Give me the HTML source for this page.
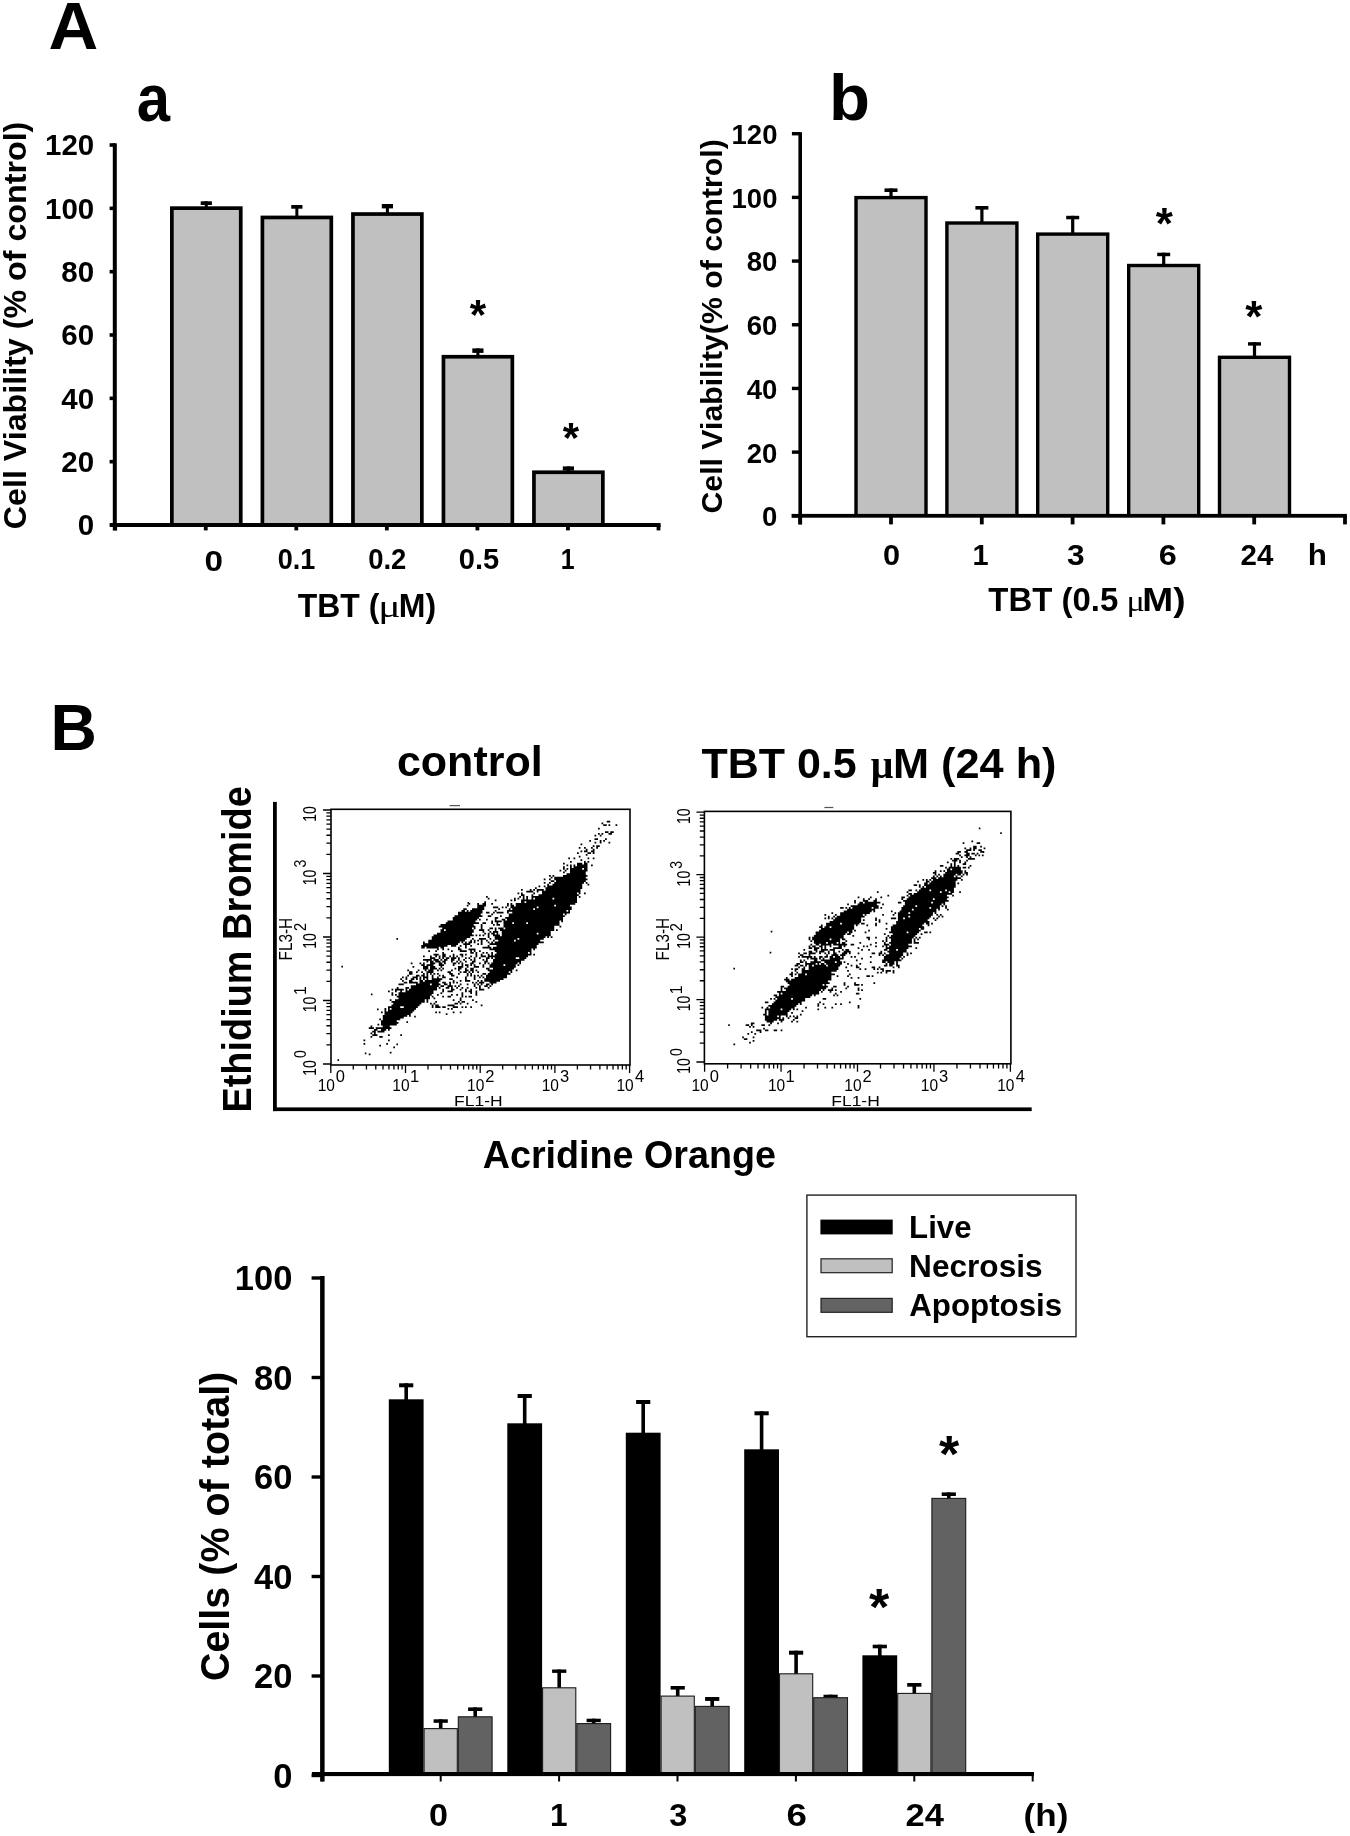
<!DOCTYPE html>
<html><head><meta charset="utf-8"><title>Figure</title>
<style>html,body{margin:0;padding:0;background:#fff;}svg{display:block;filter:grayscale(1) blur(0.35px);}</style></head>
<body><svg width="1350" height="1836" viewBox="0 0 1350 1836">
<rect width="1350" height="1836" fill="#fff"/>
<text x="48.57" y="49.2" font-family='"Liberation Sans", sans-serif' font-weight="bold" font-size="66" textLength="49.76" lengthAdjust="spacingAndGlyphs" fill="#000">A</text>
<text x="136.72" y="121.3" font-family='"Liberation Sans", sans-serif' font-weight="bold" font-size="67" textLength="33.25" lengthAdjust="spacingAndGlyphs" fill="#000">a</text>
<text x="829.11" y="119.7" font-family='"Liberation Sans", sans-serif' font-weight="bold" font-size="65" textLength="40.98" lengthAdjust="spacingAndGlyphs" fill="#000">b</text>
<text x="50.6" y="750.4" font-family='"Liberation Sans", sans-serif' font-weight="bold" font-size="65" textLength="46.41" lengthAdjust="spacingAndGlyphs" fill="#000">B</text>
<rect x="109.6" y="523.2" width="5.4" height="3.6" fill="#000"/>
<rect x="109.6" y="459.87" width="5.4" height="3.6" fill="#000"/>
<rect x="109.6" y="396.54" width="5.4" height="3.6" fill="#000"/>
<rect x="109.6" y="333.21" width="5.4" height="3.6" fill="#000"/>
<rect x="109.6" y="269.88" width="5.4" height="3.6" fill="#000"/>
<rect x="109.6" y="206.55" width="5.4" height="3.6" fill="#000"/>
<rect x="109.6" y="143.22" width="5.4" height="3.6" fill="#000"/>
<rect x="113.3" y="525" width="3.8" height="5.4" fill="#000"/>
<rect x="203.85" y="525" width="3.8" height="5.4" fill="#000"/>
<rect x="294.4" y="525" width="3.8" height="5.4" fill="#000"/>
<rect x="384.95" y="525" width="3.8" height="5.4" fill="#000"/>
<rect x="475.5" y="525" width="3.8" height="5.4" fill="#000"/>
<rect x="566.05" y="525" width="3.8" height="5.4" fill="#000"/>
<rect x="656.6" y="525" width="3.8" height="5.4" fill="#000"/>
<rect x="200.7" y="201.3" width="11.2" height="3.7" fill="#000"/><rect x="204.8" y="201.3" width="3" height="6" fill="#000"/>
<rect x="170" y="206.3" width="72.6" height="318.7" fill="#000"/><rect x="173.7" y="210" width="65.2" height="315" fill="#c0c0c0"/>
<rect x="291.25" y="205" width="11.2" height="3.7" fill="#000"/><rect x="295.35" y="205" width="3" height="11.6" fill="#000"/>
<rect x="260.55" y="215.6" width="72.6" height="309.4" fill="#000"/><rect x="264.25" y="219.3" width="65.2" height="305.7" fill="#c0c0c0"/>
<rect x="381.8" y="204" width="11.2" height="4.4" fill="#000"/><rect x="385.9" y="204" width="3" height="9.2" fill="#000"/>
<rect x="351.1" y="212.2" width="72.6" height="312.8" fill="#000"/><rect x="354.8" y="215.9" width="65.2" height="309.1" fill="#c0c0c0"/>
<rect x="472.3" y="348.4" width="11.2" height="4.5" fill="#000"/><rect x="476.4" y="348.4" width="3" height="7.5" fill="#000"/>
<rect x="441.6" y="354.9" width="72.6" height="170.1" fill="#000"/><rect x="445.3" y="358.6" width="65.2" height="166.4" fill="#c0c0c0"/>
<rect x="562.8" y="466.4" width="11.2" height="4.2" fill="#000"/><rect x="566.9" y="466.4" width="3" height="5" fill="#000"/>
<rect x="532.1" y="470.4" width="72.6" height="54.6" fill="#000"/><rect x="535.8" y="474.1" width="65.2" height="50.9" fill="#c0c0c0"/>
<rect x="112.8" y="143.3" width="4" height="387.1" fill="#000"/>
<rect x="110" y="523" width="550.6" height="4" fill="#000"/>
<text x="469.75" y="328.8" font-family='"Liberation Sans", sans-serif' font-weight="bold" font-size="42">*</text>
<text x="562.65" y="452.3" font-family='"Liberation Sans", sans-serif' font-weight="bold" font-size="42">*</text>
<text x="77.75" y="535.4" font-family='"Liberation Sans", sans-serif' font-weight="bold" font-size="29.5" fill="#000">0</text>
<text x="61.25" y="472.07" font-family='"Liberation Sans", sans-serif' font-weight="bold" font-size="29.5" fill="#000">20</text>
<text x="61.25" y="408.74" font-family='"Liberation Sans", sans-serif' font-weight="bold" font-size="29.5" fill="#000">40</text>
<text x="61.25" y="345.41" font-family='"Liberation Sans", sans-serif' font-weight="bold" font-size="29.5" fill="#000">60</text>
<text x="61.25" y="282.08" font-family='"Liberation Sans", sans-serif' font-weight="bold" font-size="29.5" fill="#000">80</text>
<text x="45" y="218.75" font-family='"Liberation Sans", sans-serif' font-weight="bold" font-size="29.5" fill="#000">100</text>
<text x="45" y="155.42" font-family='"Liberation Sans", sans-serif' font-weight="bold" font-size="29.5" fill="#000">120</text>
<text x="204.59" y="570.6" font-family='"Liberation Sans", sans-serif' font-weight="bold" font-size="29.5" textLength="18.52" lengthAdjust="spacingAndGlyphs" fill="#000">0</text>
<text x="277.75" y="568.9" font-family='"Liberation Sans", sans-serif' font-weight="bold" font-size="29.5" textLength="37.57" lengthAdjust="spacingAndGlyphs" fill="#000">0.1</text>
<text x="368.24" y="568.9" font-family='"Liberation Sans", sans-serif' font-weight="bold" font-size="29.5" textLength="38.13" lengthAdjust="spacingAndGlyphs" fill="#000">0.2</text>
<text x="458.77" y="568.9" font-family='"Liberation Sans", sans-serif' font-weight="bold" font-size="29.5" textLength="40.43" lengthAdjust="spacingAndGlyphs" fill="#000">0.5</text>
<text x="560.72" y="568.9" font-family='"Liberation Sans", sans-serif' font-weight="bold" font-size="29.5" textLength="13.84" lengthAdjust="spacingAndGlyphs" fill="#000">1</text>
<text x="297.76" y="617" font-family='"Liberation Sans", sans-serif' font-weight="bold" font-size="33" textLength="81.53" lengthAdjust="spacingAndGlyphs" fill="#000">TBT (</text>
<text x="378.23" y="617" font-family='"Liberation Serif", serif' font-weight="normal" font-size="31" textLength="22.42" lengthAdjust="spacingAndGlyphs" fill="#000">μ</text>
<text x="398.72" y="617" font-family='"Liberation Sans", sans-serif' font-weight="bold" font-size="33" textLength="37.36" lengthAdjust="spacingAndGlyphs" fill="#000">M)</text>
<g transform="translate(26.3,528) rotate(-90)"><text x="-1.26" y="0" font-family='"Liberation Sans", sans-serif' font-weight="bold" font-size="32" textLength="407.6" lengthAdjust="spacingAndGlyphs" fill="#000">Cell Viability (% of control)</text></g>
<rect x="791.9" y="514.1" width="8.1" height="3.4" fill="#000"/>
<rect x="791.9" y="450.42" width="8.1" height="3.4" fill="#000"/>
<rect x="791.9" y="386.74" width="8.1" height="3.4" fill="#000"/>
<rect x="791.9" y="323.06" width="8.1" height="3.4" fill="#000"/>
<rect x="791.9" y="259.38" width="8.1" height="3.4" fill="#000"/>
<rect x="791.9" y="195.7" width="8.1" height="3.4" fill="#000"/>
<rect x="791.9" y="132.02" width="8.1" height="3.4" fill="#000"/>
<rect x="798.3" y="515.8" width="3.8" height="8.6" fill="#000"/>
<rect x="889.1" y="515.8" width="3.8" height="8.6" fill="#000"/>
<rect x="979.9" y="515.8" width="3.8" height="8.6" fill="#000"/>
<rect x="1070.7" y="515.8" width="3.8" height="8.6" fill="#000"/>
<rect x="1161.5" y="515.8" width="3.8" height="8.6" fill="#000"/>
<rect x="1252.3" y="515.8" width="3.8" height="8.6" fill="#000"/>
<rect x="1343.1" y="515.8" width="3.8" height="8.6" fill="#000"/>
<rect x="884.5" y="188.4" width="13" height="3.6" fill="#000"/><rect x="889.4" y="188.4" width="3.2" height="8.5" fill="#000"/>
<rect x="854.3" y="195.9" width="73.4" height="319.9" fill="#000"/><rect x="857.7" y="199.3" width="66.6" height="316.5" fill="#c0c0c0"/>
<rect x="975.4" y="206" width="13" height="3.6" fill="#000"/><rect x="980.3" y="206" width="3.2" height="16.3" fill="#000"/>
<rect x="945.2" y="221.3" width="73.4" height="294.5" fill="#000"/><rect x="948.6" y="224.7" width="66.6" height="291.1" fill="#c0c0c0"/>
<rect x="1066.2" y="215.8" width="13" height="3.5" fill="#000"/><rect x="1071.1" y="215.8" width="3.2" height="17.6" fill="#000"/>
<rect x="1036" y="232.4" width="73.4" height="283.4" fill="#000"/><rect x="1039.4" y="235.8" width="66.6" height="280" fill="#c0c0c0"/>
<rect x="1157.2" y="252.7" width="13" height="3.5" fill="#000"/><rect x="1162.1" y="252.7" width="3.2" height="12.1" fill="#000"/>
<rect x="1127" y="263.8" width="73.4" height="252" fill="#000"/><rect x="1130.4" y="267.2" width="66.6" height="248.6" fill="#c0c0c0"/>
<rect x="1248" y="342.2" width="13" height="3.4" fill="#000"/><rect x="1252.9" y="342.2" width="3.2" height="14.4" fill="#000"/>
<rect x="1217.8" y="355.6" width="73.4" height="160.2" fill="#000"/><rect x="1221.2" y="359" width="66.6" height="156.8" fill="#c0c0c0"/>
<rect x="798.4" y="132.2" width="3.6" height="392.2" fill="#000"/>
<rect x="791.6" y="513.9" width="555.3" height="3.8" fill="#000"/>
<text x="1155.78" y="239.15" font-family='"Liberation Sans", sans-serif' font-weight="bold" font-size="44">*</text>
<text x="1245.28" y="332.45" font-family='"Liberation Sans", sans-serif' font-weight="bold" font-size="44">*</text>
<text x="762.05" y="526.2" font-family='"Liberation Sans", sans-serif' font-weight="bold" font-size="27.5" fill="#000">0</text>
<text x="746.8" y="462.52" font-family='"Liberation Sans", sans-serif' font-weight="bold" font-size="27.5" fill="#000">20</text>
<text x="746.8" y="398.84" font-family='"Liberation Sans", sans-serif' font-weight="bold" font-size="27.5" fill="#000">40</text>
<text x="746.8" y="335.16" font-family='"Liberation Sans", sans-serif' font-weight="bold" font-size="27.5" fill="#000">60</text>
<text x="746.8" y="271.48" font-family='"Liberation Sans", sans-serif' font-weight="bold" font-size="27.5" fill="#000">80</text>
<text x="731.55" y="207.8" font-family='"Liberation Sans", sans-serif' font-weight="bold" font-size="27.5" fill="#000">100</text>
<text x="731.55" y="144.12" font-family='"Liberation Sans", sans-serif' font-weight="bold" font-size="27.5" fill="#000">120</text>
<text x="883.06" y="565" font-family='"Liberation Sans", sans-serif' font-weight="bold" font-size="28.6" textLength="17.08" lengthAdjust="spacingAndGlyphs" fill="#000">0</text>
<text x="972.63" y="565" font-family='"Liberation Sans", sans-serif' font-weight="bold" font-size="28.6" textLength="16.09" lengthAdjust="spacingAndGlyphs" fill="#000">1</text>
<text x="1066.97" y="565" font-family='"Liberation Sans", sans-serif' font-weight="bold" font-size="28.6" textLength="17.61" lengthAdjust="spacingAndGlyphs" fill="#000">3</text>
<text x="1158.87" y="565" font-family='"Liberation Sans", sans-serif' font-weight="bold" font-size="28.6" textLength="18.05" lengthAdjust="spacingAndGlyphs" fill="#000">6</text>
<text x="1240.57" y="565" font-family='"Liberation Sans", sans-serif' font-weight="bold" font-size="28.6" textLength="32.8" lengthAdjust="spacingAndGlyphs" fill="#000">24</text>
<text x="1307.8" y="565" font-family='"Liberation Sans", sans-serif' font-weight="bold" font-size="28.6" textLength="19.18" lengthAdjust="spacingAndGlyphs" fill="#000">h</text>
<text x="988.35" y="610.5" font-family='"Liberation Sans", sans-serif' font-weight="bold" font-size="32.5" textLength="129.97" lengthAdjust="spacingAndGlyphs" fill="#000">TBT (0.5</text>
<text x="1126.44" y="610.5" font-family='"Liberation Serif", serif' font-weight="normal" font-size="30" textLength="18.38" lengthAdjust="spacingAndGlyphs" fill="#000">μ</text>
<text x="1142.33" y="610.5" font-family='"Liberation Sans", sans-serif' font-weight="bold" font-size="32.5" textLength="43.25" lengthAdjust="spacingAndGlyphs" fill="#000">M)</text>
<g transform="translate(721.8,512.3) rotate(-90)"><text x="-1.26" y="0" font-family='"Liberation Sans", sans-serif' font-weight="bold" font-size="30" textLength="374.38" lengthAdjust="spacingAndGlyphs" fill="#000">Cell Viability(% of control)</text></g>
<text x="396.95" y="775.6" font-family='"Liberation Sans", sans-serif' font-weight="bold" font-size="43" textLength="145.71" lengthAdjust="spacingAndGlyphs" fill="#000">control</text>
<text x="701.49" y="777.9" font-family='"Liberation Sans", sans-serif' font-weight="bold" font-size="42" textLength="155.14" lengthAdjust="spacingAndGlyphs" fill="#000">TBT 0.5</text>
<text x="870.63" y="777.9" font-family='"Liberation Serif", serif' font-weight="bold" font-size="42" textLength="22.5" lengthAdjust="spacingAndGlyphs" fill="#000">μ</text>
<text x="893.07" y="777.9" font-family='"Liberation Sans", sans-serif' font-weight="bold" font-size="42" textLength="163.42" lengthAdjust="spacingAndGlyphs" fill="#000">M (24 h)</text>
<g transform="translate(251,1110) rotate(-90)"><text x="-2.61" y="0" font-family='"Liberation Sans", sans-serif' font-weight="bold" font-size="40" textLength="326.38" lengthAdjust="spacingAndGlyphs" fill="#000">Ethidium Bromide</text></g>
<text x="482.71" y="1167.7" font-family='"Liberation Sans", sans-serif' font-weight="bold" font-size="38" textLength="293.26" lengthAdjust="spacingAndGlyphs" fill="#000">Acridine Orange</text>
<rect x="273" y="801.9" width="3.8" height="309.2" fill="#000"/>
<rect x="273" y="1107.4" width="758.7" height="3.7" fill="#000"/>
<rect x="331" y="809.3" width="299" height="255.7" fill="none" stroke="#000" stroke-width="1.6"/>
<path d="M353.29 1065v4.6M326.4 1044.88h4.6M366.44 1065v4.6M326.4 1033.7h4.6M375.77 1065v4.6M326.4 1025.77h4.6M383.01 1065v4.6M326.4 1019.62h4.6M388.93 1065v4.6M326.4 1014.59h4.6M393.93 1065v4.6M326.4 1010.34h4.6M398.26 1065v4.6M326.4 1006.65h4.6M402.08 1065v4.6M326.4 1003.41h4.6M405.5 1065v8M323 1000.5h8M427.99 1065v4.6M326.4 981.38h4.6M441.14 1065v4.6M326.4 970.2h4.6M450.47 1065v4.6M326.4 962.27h4.6M457.71 1065v4.6M326.4 956.12h4.6M463.63 1065v4.6M326.4 951.09h4.6M468.63 1065v4.6M326.4 946.84h4.6M472.96 1065v4.6M326.4 943.15h4.6M476.78 1065v4.6M326.4 939.91h4.6M480.2 1065v8M323 937h8M502.69 1065v4.6M326.4 917.88h4.6M515.84 1065v4.6M326.4 906.7h4.6M525.17 1065v4.6M326.4 898.77h4.6M532.41 1065v4.6M326.4 892.62h4.6M538.33 1065v4.6M326.4 887.59h4.6M543.33 1065v4.6M326.4 883.34h4.6M547.66 1065v4.6M326.4 879.65h4.6M551.48 1065v4.6M326.4 876.41h4.6M554.9 1065v8M323 873.5h8M577.39 1065v4.6M326.4 854.38h4.6M590.54 1065v4.6M326.4 843.2h4.6M599.87 1065v4.6M326.4 835.27h4.6M607.11 1065v4.6M326.4 829.12h4.6M613.03 1065v4.6M326.4 824.09h4.6M618.03 1065v4.6M326.4 819.84h4.6M622.36 1065v4.6M326.4 816.15h4.6M626.18 1065v4.6M326.4 812.91h4.6M330.8 1065v8M323 1064h8M629.6 1065v8M323 810h8" stroke="#000" stroke-width="1.3" fill="none"/>
<text x="317.63" y="1090.5" font-family='"Liberation Sans", sans-serif' font-weight="normal" font-size="16.5" textLength="17.24" lengthAdjust="spacingAndGlyphs" fill="#000">10</text>
<text x="335.85" y="1082.1" font-family='"Liberation Sans", sans-serif' font-weight="normal" font-size="16.5" fill="#000">0</text>
<text x="392.33" y="1090.5" font-family='"Liberation Sans", sans-serif' font-weight="normal" font-size="16.5" textLength="17.24" lengthAdjust="spacingAndGlyphs" fill="#000">10</text>
<text x="410.05" y="1082.1" font-family='"Liberation Sans", sans-serif' font-weight="normal" font-size="16.5" fill="#000">1</text>
<text x="467.03" y="1090.5" font-family='"Liberation Sans", sans-serif' font-weight="normal" font-size="16.5" textLength="17.24" lengthAdjust="spacingAndGlyphs" fill="#000">10</text>
<text x="485.25" y="1082.1" font-family='"Liberation Sans", sans-serif' font-weight="normal" font-size="16.5" fill="#000">2</text>
<text x="541.73" y="1090.5" font-family='"Liberation Sans", sans-serif' font-weight="normal" font-size="16.5" textLength="17.24" lengthAdjust="spacingAndGlyphs" fill="#000">10</text>
<text x="559.95" y="1082.1" font-family='"Liberation Sans", sans-serif' font-weight="normal" font-size="16.5" fill="#000">3</text>
<text x="616.43" y="1090.5" font-family='"Liberation Sans", sans-serif' font-weight="normal" font-size="16.5" textLength="17.24" lengthAdjust="spacingAndGlyphs" fill="#000">10</text>
<text x="634.9" y="1082.1" font-family='"Liberation Sans", sans-serif' font-weight="normal" font-size="16.5" fill="#000">4</text>
<g transform="translate(315.7,1074.6) rotate(-90)"><text x="-1.13" y="0" font-family='"Liberation Sans", sans-serif' font-weight="normal" font-size="18.5" textLength="15.56" lengthAdjust="spacingAndGlyphs" fill="#000">10</text></g>
<g transform="translate(305.8,1057.4) rotate(-90)"><text x="-0.66" y="0" font-family='"Liberation Sans", sans-serif' font-weight="normal" font-size="16" textLength="7.83" lengthAdjust="spacingAndGlyphs" fill="#000">0</text></g>
<g transform="translate(315.7,1011.1) rotate(-90)"><text x="-1.13" y="0" font-family='"Liberation Sans", sans-serif' font-weight="normal" font-size="18.5" textLength="15.56" lengthAdjust="spacingAndGlyphs" fill="#000">10</text></g>
<g transform="translate(305.8,993.9) rotate(-90)"><text x="-1.22" y="0" font-family='"Liberation Sans", sans-serif' font-weight="normal" font-size="16" textLength="8.7" lengthAdjust="spacingAndGlyphs" fill="#000">1</text></g>
<g transform="translate(315.7,947.6) rotate(-90)"><text x="-1.13" y="0" font-family='"Liberation Sans", sans-serif' font-weight="normal" font-size="18.5" textLength="15.56" lengthAdjust="spacingAndGlyphs" fill="#000">10</text></g>
<g transform="translate(305.8,930.4) rotate(-90)"><text x="-0.68" y="0" font-family='"Liberation Sans", sans-serif' font-weight="normal" font-size="16" textLength="8.1" lengthAdjust="spacingAndGlyphs" fill="#000">2</text></g>
<g transform="translate(315.7,884.1) rotate(-90)"><text x="-1.13" y="0" font-family='"Liberation Sans", sans-serif' font-weight="normal" font-size="18.5" textLength="15.56" lengthAdjust="spacingAndGlyphs" fill="#000">10</text></g>
<g transform="translate(305.8,866.9) rotate(-90)"><text x="-0.66" y="0" font-family='"Liberation Sans", sans-serif' font-weight="normal" font-size="16" textLength="7.83" lengthAdjust="spacingAndGlyphs" fill="#000">3</text></g>
<g transform="translate(315.7,820.6) rotate(-90)"><text x="-1.13" y="0" font-family='"Liberation Sans", sans-serif' font-weight="normal" font-size="18.5" textLength="15.56" lengthAdjust="spacingAndGlyphs" fill="#000">10</text></g>
<text x="454.14" y="1105.6" font-family='"Liberation Sans", sans-serif' font-weight="normal" font-size="15" textLength="48.52" lengthAdjust="spacingAndGlyphs" fill="#000">FL1-H</text>
<g transform="translate(292,959.2) rotate(-90)"><text x="-1.21" y="0" font-family='"Liberation Sans", sans-serif' font-weight="normal" font-size="19" textLength="42.55" lengthAdjust="spacingAndGlyphs" fill="#000">FL3-H</text></g>
<rect x="449.6" y="805" width="10.4" height="1.2" fill="#555"/>
<path d="M606.75 821.67h3.5M601.5 823.42h1.75M603.25 825.17h3.5M608.5 825.17h1.75M615.5 825.17h1.75M598 828.67h1.75M605 832.17h3.5M610.25 832.17h3.5M598 833.92h1.75M601.5 833.92h1.75M608.5 833.92h3.5M594.5 835.67h1.75M599.75 835.67h1.75M594.5 839.17h3.5M605 839.17h1.75M589.25 840.92h1.75M599.75 840.92h1.75M603.25 840.92h1.75M594.5 842.67h1.75M599.75 842.67h1.75M608.5 842.67h1.75M580.5 844.42h1.75M592.75 846.17h1.75M596.25 846.17h3.5M578.75 847.92h1.75M584 847.92h1.75M591 847.92h1.75M596.25 847.92h1.75M585.75 849.67h1.75M592.75 849.67h1.75M580.5 851.42h1.75M584 851.42h3.5M591 851.42h3.5M577 853.17h1.75M587.5 853.17h3.5M592.75 853.17h1.75M585.75 854.92h1.75M578.75 856.67h1.75M568.25 858.42h1.75M573.5 858.42h1.75M587.5 858.42h1.75M592.75 858.42h1.75M580.5 860.17h1.75M570 861.92h1.75M584 861.92h1.75M587.5 861.92h1.75M563 863.67h1.75M577 863.67h5.25M584 863.67h3.5M566.5 865.42h1.75M570 865.42h1.75M573.5 865.42h1.75M577 865.42h10.5M591 865.42h1.75M563 867.17h1.75M570 867.17h1.75M573.5 867.17h14M563 868.92h1.75M566.5 868.92h1.75M570 868.92h12.25M584 868.92h3.5M559.5 870.67h1.75M564.75 870.67h1.75M570 870.67h17.5M563 872.42h1.75M570 872.42h15.75M566.5 874.17h19.25M549 875.92h1.75M552.5 875.92h1.75M563 875.92h24.5M550.75 877.67h1.75M554.25 877.67h31.5M543.75 879.42h1.75M549 879.42h1.75M554.25 879.42h33.25M550.75 881.17h3.5M556 881.17h29.75M543.75 882.92h1.75M549 882.92h1.75M554.25 882.92h29.75M585.75 882.92h1.75M547.25 884.67h1.75M552.5 884.67h29.75M587.5 884.67h1.75M538.5 886.42h1.75M543.75 886.42h1.75M547.25 886.42h35M535 888.17h1.75M545.5 888.17h36.75M521 889.92h1.75M529.75 889.92h1.75M533.25 889.92h1.75M536.75 889.92h7M545.5 889.92h35M526.25 891.67h7M536.75 891.67h1.75M542 891.67h38.5M517.5 893.42h1.75M521 893.42h1.75M533.25 893.42h1.75M542 893.42h35M578.75 893.42h1.75M584 893.42h1.75M521 895.17h3.5M531.5 895.17h1.75M538.5 895.17h40.25M486 896.92h1.75M519.25 896.92h1.75M522.75 896.92h1.75M526.25 896.92h1.75M531.5 896.92h45.5M578.75 896.92h1.75M487.75 898.67h1.75M514 898.67h1.75M517.5 898.67h1.75M522.75 898.67h1.75M526.25 898.67h1.75M531.5 898.67h1.75M535 898.67h17.5M554.25 898.67h22.75M494.75 900.42h1.75M510.5 900.42h1.75M514 900.42h1.75M521 900.42h56M484.25 902.17h1.75M521 902.17h3.5M526.25 902.17h50.75M468.5 903.92h1.75M477.25 903.92h1.75M482.5 903.92h3.5M491.25 903.92h1.75M507 903.92h1.75M510.5 903.92h1.75M515.75 903.92h59.5M466.75 905.67h1.75M477.25 905.67h8.75M507 905.67h1.75M510.5 905.67h3.5M515.75 905.67h38.5M556 905.67h14M477.25 907.42h7M493 907.42h5.25M501.75 907.42h1.75M505.25 907.42h1.75M510.5 907.42h26.25M538.5 907.42h33.25M463.25 909.17h3.5M472 909.17h12.25M498.25 909.17h1.75M508.75 909.17h1.75M512.25 909.17h21M535 909.17h36.75M461.5 910.92h3.5M466.75 910.92h1.75M470.25 910.92h12.25M494.75 910.92h1.75M507 910.92h59.5M568.25 910.92h1.75M458 912.67h24.5M486 912.67h3.5M493 912.67h1.75M496.5 912.67h7M507 912.67h1.75M512.25 912.67h57.75M458 914.42h22.75M491.25 914.42h1.75M508.75 914.42h54.25M564.75 914.42h1.75M454.5 916.17h28M487.75 916.17h3.5M500 916.17h1.75M508.75 916.17h56M452.75 917.92h26.25M494.75 917.92h3.5M505.25 917.92h57.75M452.75 919.67h24.5M479 919.67h1.75M486 919.67h1.75M494.75 919.67h1.75M501.75 919.67h3.5M507 919.67h56M447.5 921.42h28M491.25 921.42h1.75M494.75 921.42h7M503.5 921.42h56M561.25 921.42h1.75M445.75 923.17h33.25M482.5 923.17h3.5M491.25 923.17h1.75M496.5 923.17h1.75M503.5 923.17h8.75M514 923.17h12.25M528 923.17h31.5M440.5 924.92h33.25M480.75 924.92h1.75M493 924.92h1.75M496.5 924.92h3.5M503.5 924.92h56M438.75 926.67h36.75M480.75 926.67h1.75M503.5 926.67h50.75M559.5 926.67h1.75M442.25 928.42h29.75M473.75 928.42h1.75M480.75 928.42h1.75M489.5 928.42h3.5M494.75 928.42h1.75M498.25 928.42h5.25M505.25 928.42h49M440.5 930.17h3.5M445.75 930.17h28M479 930.17h5.25M487.75 930.17h1.75M494.75 930.17h1.75M500 930.17h54.25M556 930.17h1.75M440.5 931.92h33.25M482.5 931.92h1.75M489.5 931.92h1.75M493 931.92h5.25M501.75 931.92h49M437 933.67h35M484.25 933.67h1.75M487.75 933.67h1.75M491.25 933.67h3.5M496.5 933.67h1.75M501.75 933.67h35M538.5 933.67h12.25M433.5 935.42h40.25M475.5 935.42h1.75M479 935.42h1.75M482.5 935.42h1.75M487.75 935.42h1.75M493 935.42h7M501.75 935.42h49M431.75 937.17h38.5M487.75 937.17h1.75M494.75 937.17h50.75M547.25 937.17h1.75M550.75 937.17h1.75M431.75 938.92h35M472 938.92h1.75M479 938.92h7M489.5 938.92h1.75M494.75 938.92h22.75M519.25 938.92h24.5M428.25 940.67h36.75M470.25 940.67h1.75M473.75 940.67h1.75M477.25 940.67h1.75M480.75 940.67h1.75M486 940.67h1.75M493 940.67h1.75M498.25 940.67h15.75M515.75 940.67h24.5M423 942.42h1.75M428.25 942.42h31.5M461.5 942.42h1.75M465 942.42h1.75M468.5 942.42h3.5M473.75 942.42h1.75M480.75 942.42h1.75M487.75 942.42h1.75M491.25 942.42h1.75M494.75 942.42h49M423 944.17h35M463.25 944.17h7M477.25 944.17h1.75M480.75 944.17h1.75M489.5 944.17h49M421.25 945.92h26.25M451 945.92h5.25M459.75 945.92h1.75M465 945.92h1.75M470.25 945.92h1.75M487.75 945.92h1.75M496.5 945.92h40.25M421.25 947.67h3.5M426.5 947.67h12.25M440.5 947.67h3.5M458 947.67h1.75M465 947.67h1.75M482.5 947.67h8.75M493 947.67h43.75M437 949.42h1.75M442.25 949.42h1.75M447.5 949.42h1.75M458 949.42h3.5M468.5 949.42h7M489.5 949.42h42M533.25 949.42h1.75M428.25 951.17h1.75M435.25 951.17h1.75M451 951.17h1.75M459.75 951.17h7M470.25 951.17h1.75M473.75 951.17h1.75M479 951.17h1.75M494.75 951.17h36.75M442.25 952.92h1.75M470.25 952.92h3.5M475.5 952.92h1.75M482.5 952.92h1.75M486 952.92h1.75M491.25 952.92h1.75M496.5 952.92h31.5M529.75 952.92h1.75M433.5 954.67h5.25M442.25 954.67h3.5M452.75 954.67h1.75M459.75 954.67h3.5M465 954.67h1.75M475.5 954.67h1.75M480.75 954.67h1.75M487.75 954.67h1.75M491.25 954.67h1.75M494.75 954.67h36.75M533.25 954.67h1.75M423 956.42h1.75M430 956.42h1.75M435.25 956.42h1.75M438.75 956.42h1.75M442.25 956.42h3.5M449.25 956.42h1.75M452.75 956.42h1.75M456.25 956.42h1.75M461.5 956.42h1.75M470.25 956.42h1.75M475.5 956.42h1.75M480.75 956.42h5.25M487.75 956.42h40.25M430 958.17h5.25M438.75 958.17h1.75M442.25 958.17h1.75M445.75 958.17h3.5M451 958.17h5.25M458 958.17h1.75M465 958.17h1.75M468.5 958.17h1.75M473.75 958.17h1.75M479 958.17h1.75M486 958.17h3.5M491.25 958.17h1.75M494.75 958.17h21M519.25 958.17h7M423 959.92h8.75M433.5 959.92h5.25M440.5 959.92h1.75M444 959.92h3.5M451 959.92h3.5M458 959.92h1.75M463.25 959.92h1.75M470.25 959.92h1.75M473.75 959.92h1.75M482.5 959.92h1.75M486 959.92h1.75M493 959.92h31.5M426.5 961.67h1.75M430 961.67h3.5M435.25 961.67h5.25M442.25 961.67h3.5M451 961.67h1.75M456.25 961.67h1.75M459.75 961.67h1.75M465 961.67h1.75M472 961.67h3.5M484.25 961.67h3.5M493 961.67h28M410.75 963.42h1.75M419.5 963.42h1.75M423 963.42h1.75M430 963.42h5.25M438.75 963.42h3.5M444 963.42h1.75M452.75 963.42h3.5M458 963.42h1.75M461.5 963.42h1.75M470.25 963.42h3.5M479 963.42h1.75M484.25 963.42h1.75M487.75 963.42h1.75M491.25 963.42h26.25M519.25 963.42h1.75M421.25 965.17h3.5M426.5 965.17h7M438.75 965.17h5.25M452.75 965.17h1.75M461.5 965.17h1.75M465 965.17h3.5M470.25 965.17h1.75M473.75 965.17h1.75M482.5 965.17h1.75M489.5 965.17h14M505.25 965.17h10.5M517.5 965.17h1.75M412.5 966.92h1.75M423 966.92h5.25M430 966.92h5.25M440.5 966.92h1.75M458 966.92h5.25M466.75 966.92h1.75M473.75 966.92h5.25M482.5 966.92h1.75M489.5 966.92h26.25M423 968.67h5.25M430 968.67h7M438.75 968.67h1.75M442.25 968.67h1.75M454.5 968.67h1.75M458 968.67h3.5M465 968.67h1.75M470.25 968.67h3.5M486 968.67h3.5M493 968.67h21M407.25 970.42h1.75M417.75 970.42h1.75M424.75 970.42h1.75M428.25 970.42h5.25M437 970.42h1.75M440.5 970.42h1.75M451 970.42h1.75M458 970.42h1.75M465 970.42h3.5M470.25 970.42h3.5M475.5 970.42h1.75M487.75 970.42h24.5M515.75 970.42h1.75M409 972.17h3.5M416 972.17h1.75M421.25 972.17h1.75M426.5 972.17h7M447.5 972.17h3.5M459.75 972.17h1.75M463.25 972.17h3.5M468.5 972.17h1.75M472 972.17h1.75M477.25 972.17h1.75M489.5 972.17h19.25M510.5 972.17h1.75M409 973.92h3.5M423 973.92h1.75M426.5 973.92h1.75M430 973.92h1.75M433.5 973.92h1.75M437 973.92h1.75M449.25 973.92h3.5M458 973.92h1.75M466.75 973.92h1.75M470.25 973.92h1.75M482.5 973.92h3.5M487.75 973.92h22.75M407.25 975.67h1.75M416 975.67h3.5M421.25 975.67h3.5M426.5 975.67h1.75M431.75 975.67h1.75M438.75 975.67h1.75M442.25 975.67h1.75M451 975.67h3.5M466.75 975.67h1.75M470.25 975.67h1.75M473.75 975.67h1.75M477.25 975.67h1.75M480.75 975.67h1.75M486 975.67h21M402 977.42h1.75M405.5 977.42h1.75M412.5 977.42h5.25M419.5 977.42h1.75M423 977.42h5.25M431.75 977.42h1.75M437 977.42h1.75M442.25 977.42h3.5M456.25 977.42h1.75M465 977.42h1.75M473.75 977.42h1.75M479 977.42h1.75M482.5 977.42h1.75M486 977.42h21M400.25 979.17h1.75M405.5 979.17h1.75M410.75 979.17h3.5M416 979.17h1.75M419.5 979.17h1.75M423 979.17h1.75M426.5 979.17h1.75M431.75 979.17h10.5M449.25 979.17h3.5M465 979.17h1.75M473.75 979.17h1.75M484.25 979.17h19.25M402 980.92h1.75M409 980.92h3.5M419.5 980.92h3.5M424.75 980.92h15.75M452.75 980.92h1.75M459.75 980.92h1.75M465 980.92h5.25M477.25 980.92h1.75M480.75 980.92h1.75M484.25 980.92h15.75M403.75 982.67h3.5M409 982.67h8.75M419.5 982.67h19.25M442.25 982.67h3.5M449.25 982.67h1.75M452.75 982.67h1.75M456.25 982.67h1.75M472 982.67h1.75M475.5 982.67h1.75M479 982.67h5.25M489.5 982.67h7M398.5 984.42h5.25M416 984.42h14M431.75 984.42h8.75M444 984.42h3.5M449.25 984.42h1.75M459.75 984.42h1.75M466.75 984.42h1.75M473.75 984.42h1.75M477.25 984.42h1.75M480.75 984.42h1.75M486 984.42h3.5M491.25 984.42h1.75M410.75 986.17h28M440.5 986.17h3.5M447.5 986.17h5.25M454.5 986.17h1.75M458 986.17h1.75M473.75 986.17h1.75M479 986.17h1.75M484.25 986.17h3.5M489.5 986.17h1.75M396.75 987.92h1.75M405.5 987.92h3.5M410.75 987.92h26.25M438.75 987.92h1.75M445.75 987.92h3.5M451 987.92h1.75M456.25 987.92h1.75M461.5 987.92h1.75M466.75 987.92h1.75M475.5 987.92h1.75M479 987.92h1.75M487.75 987.92h1.75M391.5 989.67h1.75M395 989.67h8.75M405.5 989.67h1.75M409 989.67h28M442.25 989.67h1.75M451 989.67h3.5M459.75 989.67h1.75M465 989.67h1.75M470.25 989.67h1.75M479 989.67h5.25M388 991.42h1.75M395 991.42h1.75M400.25 991.42h1.75M405.5 991.42h28M442.25 991.42h1.75M447.5 991.42h5.25M465 991.42h1.75M468.5 991.42h3.5M475.5 991.42h1.75M391.5 993.17h1.75M398.5 993.17h35M440.5 993.17h1.75M461.5 993.17h1.75M470.25 993.17h1.75M475.5 993.17h1.75M391.5 994.92h1.75M395 994.92h1.75M398.5 994.92h33.25M437 994.92h1.75M451 994.92h1.75M456.25 994.92h1.75M461.5 994.92h1.75M475.5 994.92h1.75M396.75 996.67h33.25M431.75 996.67h1.75M442.25 996.67h1.75M447.5 996.67h3.5M461.5 996.67h1.75M465 996.67h1.75M468.5 996.67h3.5M398.5 998.42h31.5M433.5 998.42h1.75M459.75 998.42h1.75M389.75 1000.17h1.75M395 1000.17h29.75M426.5 1000.17h1.75M452.75 1000.17h1.75M459.75 1000.17h1.75M472 1000.17h1.75M391.5 1001.92h33.25M426.5 1001.92h1.75M435.25 1001.92h1.75M458 1001.92h1.75M461.5 1001.92h3.5M475.5 1001.92h1.75M393.25 1003.67h28M430 1003.67h1.75M433.5 1003.67h1.75M454.5 1003.67h3.5M459.75 1003.67h1.75M466.75 1003.67h1.75M391.5 1005.42h28M431.75 1005.42h1.75M435.25 1005.42h3.5M447.5 1005.42h7M480.75 1005.42h1.75M388 1007.17h12.25M403.75 1007.17h14M431.75 1007.17h1.75M435.25 1007.17h5.25M442.25 1007.17h3.5M452.75 1007.17h5.25M461.5 1007.17h1.75M465 1007.17h1.75M470.25 1007.17h1.75M384.5 1008.92h1.75M388 1008.92h1.75M391.5 1008.92h24.5M447.5 1008.92h1.75M451 1008.92h1.75M384.5 1010.67h1.75M388 1010.67h26.25M381 1012.42h1.75M384.5 1012.42h28M435.25 1012.42h1.75M438.75 1012.42h1.75M452.75 1012.42h1.75M459.75 1012.42h1.75M384.5 1014.17h26.25M445.75 1014.17h1.75M382.75 1015.92h24.5M409 1015.92h1.75M382.75 1017.67h21M379.25 1019.42h1.75M382.75 1019.42h17.5M381 1021.17h15.75M381 1022.92h17.5M377.5 1024.67h1.75M381 1024.67h15.75M370.5 1026.42h1.75M382.75 1026.42h7M368.75 1028.17h5.25M375.75 1028.17h15.75M374 1029.92h3.5M381 1029.92h5.25M388 1029.92h1.75M372.25 1031.67h3.5M377.5 1031.67h7M370.5 1033.42h1.75M374 1033.42h1.75M372.25 1035.17h5.25M388 1035.17h1.75M400.25 1035.17h1.75M370.5 1036.92h1.75M379.25 1036.92h3.5M363.5 1040.42h1.75M388 1040.42h1.75M363.5 1043.92h1.75M386.25 1043.92h1.75M379.25 1045.67h1.75M393.25 1047.42h1.75M389.75 1052.67h1.75M368.75 1054.42h1.75M341.4 966.7h1.6M370.9 994.4h1.6M396.4 938.9h1.6M364.8 1053.3h1.6M337.5 1060h1.6M396.4 1044.4h1.6M414.2 1016.7h1.6M406.4 1022.2h1.6M377 1009.4h1.6M467.5 902.8h1.6" stroke="#000" stroke-width="1.75" fill="none"/>
<rect x="704.4" y="811.4" width="306.5" height="252.4" fill="none" stroke="#000" stroke-width="1.6"/>
<path d="M727.61 1063.8v4.6M699.8 1043.2h4.6M741.08 1063.8v4.6M699.8 1032.2h4.6M750.63 1063.8v4.6M699.8 1024.4h4.6M758.04 1063.8v4.6M699.8 1018.35h4.6M764.09 1063.8v4.6M699.8 1013.4h4.6M769.21 1063.8v4.6M699.8 1009.22h4.6M773.64 1063.8v4.6M699.8 1005.6h4.6M777.55 1063.8v4.6M699.8 1002.41h4.6M781.05 1063.8v8M696.4 999.55h8M804.06 1063.8v4.6M699.8 980.75h4.6M817.53 1063.8v4.6M699.8 969.75h4.6M827.08 1063.8v4.6M699.8 961.95h4.6M834.49 1063.8v4.6M699.8 955.9h4.6M840.54 1063.8v4.6M699.8 950.95h4.6M845.66 1063.8v4.6M699.8 946.77h4.6M850.09 1063.8v4.6M699.8 943.15h4.6M854 1063.8v4.6M699.8 939.96h4.6M857.5 1063.8v8M696.4 937.1h8M880.51 1063.8v4.6M699.8 918.3h4.6M893.98 1063.8v4.6M699.8 907.3h4.6M903.53 1063.8v4.6M699.8 899.5h4.6M910.94 1063.8v4.6M699.8 893.45h4.6M916.99 1063.8v4.6M699.8 888.5h4.6M922.11 1063.8v4.6M699.8 884.32h4.6M926.54 1063.8v4.6M699.8 880.7h4.6M930.45 1063.8v4.6M699.8 877.51h4.6M933.95 1063.8v8M696.4 874.65h8M956.96 1063.8v4.6M699.8 855.85h4.6M970.43 1063.8v4.6M699.8 844.85h4.6M979.98 1063.8v4.6M699.8 837.05h4.6M987.39 1063.8v4.6M699.8 831h4.6M993.44 1063.8v4.6M699.8 826.05h4.6M998.56 1063.8v4.6M699.8 821.87h4.6M1002.99 1063.8v4.6M699.8 818.25h4.6M1006.9 1063.8v4.6M699.8 815.06h4.6M704.6 1063.8v8M696.4 1062h8M1010.4 1063.8v8M696.4 812.2h8" stroke="#000" stroke-width="1.3" fill="none"/>
<text x="691.43" y="1090.5" font-family='"Liberation Sans", sans-serif' font-weight="normal" font-size="16.5" textLength="17.24" lengthAdjust="spacingAndGlyphs" fill="#000">10</text>
<text x="709.65" y="1082.1" font-family='"Liberation Sans", sans-serif' font-weight="normal" font-size="16.5" fill="#000">0</text>
<text x="767.88" y="1090.5" font-family='"Liberation Sans", sans-serif' font-weight="normal" font-size="16.5" textLength="17.24" lengthAdjust="spacingAndGlyphs" fill="#000">10</text>
<text x="785.6" y="1082.1" font-family='"Liberation Sans", sans-serif' font-weight="normal" font-size="16.5" fill="#000">1</text>
<text x="844.33" y="1090.5" font-family='"Liberation Sans", sans-serif' font-weight="normal" font-size="16.5" textLength="17.24" lengthAdjust="spacingAndGlyphs" fill="#000">10</text>
<text x="862.55" y="1082.1" font-family='"Liberation Sans", sans-serif' font-weight="normal" font-size="16.5" fill="#000">2</text>
<text x="920.78" y="1090.5" font-family='"Liberation Sans", sans-serif' font-weight="normal" font-size="16.5" textLength="17.24" lengthAdjust="spacingAndGlyphs" fill="#000">10</text>
<text x="939" y="1082.1" font-family='"Liberation Sans", sans-serif' font-weight="normal" font-size="16.5" fill="#000">3</text>
<text x="997.23" y="1090.5" font-family='"Liberation Sans", sans-serif' font-weight="normal" font-size="16.5" textLength="17.24" lengthAdjust="spacingAndGlyphs" fill="#000">10</text>
<text x="1015.7" y="1082.1" font-family='"Liberation Sans", sans-serif' font-weight="normal" font-size="16.5" fill="#000">4</text>
<g transform="translate(690.2,1072.6) rotate(-90)"><text x="-1.13" y="0" font-family='"Liberation Sans", sans-serif' font-weight="normal" font-size="18.5" textLength="15.56" lengthAdjust="spacingAndGlyphs" fill="#000">10</text></g>
<g transform="translate(681.6,1055.4) rotate(-90)"><text x="-0.66" y="0" font-family='"Liberation Sans", sans-serif' font-weight="normal" font-size="16" textLength="7.83" lengthAdjust="spacingAndGlyphs" fill="#000">0</text></g>
<g transform="translate(690.2,1010.15) rotate(-90)"><text x="-1.13" y="0" font-family='"Liberation Sans", sans-serif' font-weight="normal" font-size="18.5" textLength="15.56" lengthAdjust="spacingAndGlyphs" fill="#000">10</text></g>
<g transform="translate(681.6,992.95) rotate(-90)"><text x="-1.22" y="0" font-family='"Liberation Sans", sans-serif' font-weight="normal" font-size="16" textLength="8.7" lengthAdjust="spacingAndGlyphs" fill="#000">1</text></g>
<g transform="translate(690.2,947.7) rotate(-90)"><text x="-1.13" y="0" font-family='"Liberation Sans", sans-serif' font-weight="normal" font-size="18.5" textLength="15.56" lengthAdjust="spacingAndGlyphs" fill="#000">10</text></g>
<g transform="translate(681.6,930.5) rotate(-90)"><text x="-0.68" y="0" font-family='"Liberation Sans", sans-serif' font-weight="normal" font-size="16" textLength="8.1" lengthAdjust="spacingAndGlyphs" fill="#000">2</text></g>
<g transform="translate(690.2,885.25) rotate(-90)"><text x="-1.13" y="0" font-family='"Liberation Sans", sans-serif' font-weight="normal" font-size="18.5" textLength="15.56" lengthAdjust="spacingAndGlyphs" fill="#000">10</text></g>
<g transform="translate(681.6,868.05) rotate(-90)"><text x="-0.66" y="0" font-family='"Liberation Sans", sans-serif' font-weight="normal" font-size="16" textLength="7.83" lengthAdjust="spacingAndGlyphs" fill="#000">3</text></g>
<g transform="translate(690.2,822.8) rotate(-90)"><text x="-1.13" y="0" font-family='"Liberation Sans", sans-serif' font-weight="normal" font-size="18.5" textLength="15.56" lengthAdjust="spacingAndGlyphs" fill="#000">10</text></g>
<text x="831.29" y="1105.6" font-family='"Liberation Sans", sans-serif' font-weight="normal" font-size="15" textLength="48.52" lengthAdjust="spacingAndGlyphs" fill="#000">FL1-H</text>
<g transform="translate(668.9,959.2) rotate(-90)"><text x="-1.21" y="0" font-family='"Liberation Sans", sans-serif' font-weight="normal" font-size="19" textLength="42.55" lengthAdjust="spacingAndGlyphs" fill="#000">FL3-H</text></g>
<rect x="824.4" y="806.9" width="8.9" height="1.2" fill="#555"/>
<path d="M971.4 841.27h1.75M962.65 843.02h1.75M976.65 843.02h3.5M973.15 846.52h3.5M980.15 846.52h1.75M964.4 848.27h1.75M969.65 848.27h1.75M973.15 848.27h3.5M983.65 848.27h1.75M966.15 850.02h5.25M973.15 850.02h1.75M978.4 850.02h3.5M957.4 851.77h3.5M964.4 851.77h3.5M980.15 851.77h3.5M955.65 853.52h3.5M966.15 853.52h3.5M971.4 853.52h3.5M976.65 853.52h1.75M959.15 855.27h1.75M964.4 855.27h5.25M974.9 855.27h1.75M978.4 855.27h1.75M981.9 855.27h1.75M960.9 857.02h1.75M966.15 857.02h1.75M969.65 857.02h1.75M950.4 858.77h1.75M953.9 858.77h5.25M967.9 858.77h7M952.15 860.52h5.25M959.15 860.52h1.75M966.15 860.52h1.75M946.9 862.27h1.75M953.9 862.27h1.75M959.15 862.27h1.75M964.4 862.27h1.75M950.4 864.02h1.75M953.9 864.02h1.75M962.65 864.02h3.5M939.9 865.77h3.5M950.4 865.77h1.75M953.9 865.77h1.75M957.4 865.77h1.75M969.65 865.77h1.75M945.15 867.52h1.75M948.65 867.52h12.25M962.65 867.52h3.5M967.9 867.52h1.75M946.9 869.27h3.5M952.15 869.27h8.75M934.65 871.02h1.75M939.9 871.02h1.75M943.4 871.02h1.75M946.9 871.02h15.75M964.4 871.02h1.75M932.9 872.77h3.5M945.15 872.77h17.5M964.4 872.77h3.5M934.65 874.52h1.75M938.15 874.52h1.75M943.4 874.52h12.25M957.4 874.52h3.5M962.65 874.52h1.75M966.15 874.52h1.75M932.9 876.27h1.75M936.4 876.27h1.75M939.9 876.27h1.75M943.4 876.27h10.5M955.65 876.27h1.75M960.9 876.27h1.75M931.15 878.02h5.25M938.15 878.02h22.75M922.4 879.77h1.75M925.9 879.77h1.75M929.4 879.77h1.75M932.9 879.77h24.5M960.9 879.77h1.75M917.15 881.52h1.75M925.9 881.52h3.5M931.15 881.52h24.5M924.15 883.27h3.5M929.4 883.27h26.25M957.4 883.27h1.75M913.65 885.02h3.5M918.9 885.02h1.75M924.15 885.02h31.5M918.9 886.77h1.75M922.4 886.77h1.75M925.9 886.77h29.75M920.65 888.52h33.25M908.4 890.27h3.5M915.4 890.27h1.75M918.9 890.27h10.5M931.15 890.27h14M946.9 890.27h7M876.9 892.02h1.75M906.65 892.02h1.75M917.15 892.02h22.75M941.65 892.02h7M950.4 892.02h3.5M959.15 892.02h1.75M908.4 893.77h3.5M913.65 893.77h38.5M887.4 895.52h1.75M906.65 895.52h1.75M910.15 895.52h36.75M952.15 895.52h1.75M857.65 897.27h1.75M869.9 897.27h1.75M880.4 897.27h1.75M901.4 897.27h3.5M908.4 897.27h40.25M862.9 899.02h1.75M868.15 899.02h1.75M875.15 899.02h1.75M901.4 899.02h1.75M906.65 899.02h26.25M934.65 899.02h12.25M854.15 900.77h1.75M862.9 900.77h5.25M873.4 900.77h3.5M903.15 900.77h45.5M854.15 902.52h1.75M859.4 902.52h3.5M864.65 902.52h15.75M897.9 902.52h3.5M904.9 902.52h26.25M932.9 902.52h12.25M847.15 904.27h1.75M857.65 904.27h19.25M882.15 904.27h1.75M904.9 904.27h36.75M943.4 904.27h1.75M850.65 906.02h28M903.15 906.02h12.25M917.15 906.02h22.75M941.65 906.02h1.75M945.15 906.02h1.75M840.15 907.77h3.5M845.4 907.77h1.75M848.9 907.77h1.75M852.4 907.77h19.25M873.4 907.77h5.25M880.4 907.77h1.75M901.4 907.77h28M931.15 907.77h8.75M945.15 907.77h1.75M847.15 909.52h28M901.4 909.52h10.5M913.65 909.52h22.75M938.15 909.52h1.75M946.9 909.52h1.75M843.65 911.27h28M873.4 911.27h1.75M890.9 911.27h1.75M899.65 911.27h36.75M831.4 913.02h1.75M840.15 913.02h29.75M894.4 913.02h1.75M897.9 913.02h10.5M910.15 913.02h22.75M934.65 913.02h1.75M824.4 914.77h1.75M834.9 914.77h1.75M840.15 914.77h22.75M864.65 914.77h1.75M882.15 914.77h1.75M892.65 914.77h1.75M897.9 914.77h35M936.4 914.77h1.75M939.9 914.77h1.75M827.9 916.52h1.75M833.15 916.52h1.75M836.65 916.52h28M897.9 916.52h10.5M910.15 916.52h21M938.15 916.52h1.75M941.65 916.52h1.75M824.4 918.27h1.75M827.9 918.27h1.75M831.4 918.27h1.75M834.9 918.27h26.25M875.15 918.27h1.75M890.9 918.27h5.25M897.9 918.27h5.25M904.9 918.27h24.5M932.9 918.27h1.75M936.4 918.27h1.75M833.15 920.02h28M862.9 920.02h1.75M875.15 920.02h1.75M878.65 920.02h1.75M897.9 920.02h29.75M934.65 920.02h1.75M829.65 921.77h31.5M878.65 921.77h1.75M896.15 921.77h33.25M826.15 923.52h14M841.9 923.52h17.5M861.15 923.52h3.5M875.15 923.52h1.75M885.65 923.52h1.75M896.15 923.52h28M925.9 923.52h3.5M931.15 923.52h1.75M820.9 925.27h1.75M826.15 925.27h28M855.9 925.27h1.75M866.4 925.27h1.75M875.15 925.27h1.75M892.65 925.27h29.75M927.65 925.27h1.75M819.15 927.02h3.5M824.4 927.02h5.25M831.4 927.02h22.75M890.9 927.02h33.25M820.9 928.77h33.25M885.65 928.77h1.75M890.9 928.77h28M920.65 928.77h3.5M819.15 930.52h33.25M854.15 930.52h1.75M868.15 930.52h1.75M890.9 930.52h29.75M815.65 932.27h31.5M848.9 932.27h3.5M864.65 932.27h1.75M889.15 932.27h17.5M908.4 932.27h10.5M924.15 932.27h3.5M929.4 932.27h1.75M815.65 934.02h29.75M847.15 934.02h3.5M883.9 934.02h1.75M892.65 934.02h24.5M920.65 934.02h1.75M813.9 935.77h29.75M852.4 935.77h1.75M887.4 935.77h1.75M890.9 935.77h24.5M808.65 937.52h1.75M812.15 937.52h31.5M866.4 937.52h3.5M875.15 937.52h1.75M885.65 937.52h1.75M889.15 937.52h24.5M915.4 937.52h1.75M918.9 937.52h1.75M808.65 939.27h1.75M812.15 939.27h17.5M831.4 939.27h8.75M841.9 939.27h3.5M868.15 939.27h1.75M885.65 939.27h1.75M890.9 939.27h21M913.65 939.27h1.75M917.15 939.27h1.75M810.4 941.02h1.75M813.9 941.02h26.25M845.4 941.02h1.75M882.15 941.02h1.75M885.65 941.02h1.75M890.9 941.02h21M913.65 941.02h1.75M813.9 942.77h12.25M827.9 942.77h8.75M838.4 942.77h1.75M841.9 942.77h3.5M859.4 942.77h1.75M875.15 942.77h1.75M883.9 942.77h1.75M889.15 942.77h22.75M913.65 942.77h5.25M810.4 944.52h1.75M815.65 944.52h3.5M820.9 944.52h10.5M833.15 944.52h14M850.65 944.52h3.5M869.9 944.52h1.75M883.9 944.52h5.25M890.9 944.52h17.5M808.65 946.27h1.75M812.15 946.27h3.5M819.15 946.27h3.5M824.4 946.27h1.75M829.65 946.27h1.75M838.4 946.27h3.5M843.65 946.27h1.75M862.9 946.27h1.75M866.4 946.27h1.75M875.15 946.27h1.75M882.15 946.27h1.75M885.65 946.27h1.75M889.15 946.27h22.75M808.65 948.02h3.5M813.9 948.02h5.25M820.9 948.02h1.75M824.4 948.02h1.75M833.15 948.02h8.75M857.65 948.02h1.75M885.65 948.02h22.75M915.4 948.02h1.75M803.4 949.77h1.75M813.9 949.77h3.5M820.9 949.77h7M829.65 949.77h5.25M841.9 949.77h1.75M845.4 949.77h3.5M861.15 949.77h1.75M868.15 949.77h1.75M883.9 949.77h3.5M889.15 949.77h7M897.9 949.77h8.75M808.65 951.52h3.5M815.65 951.52h1.75M819.15 951.52h5.25M827.9 951.52h1.75M833.15 951.52h1.75M838.4 951.52h1.75M843.65 951.52h7M880.4 951.52h1.75M887.4 951.52h19.25M798.15 953.27h1.75M803.4 953.27h3.5M808.65 953.27h7M819.15 953.27h1.75M824.4 953.27h1.75M827.9 953.27h1.75M833.15 953.27h3.5M841.9 953.27h5.25M848.9 953.27h1.75M857.65 953.27h1.75M871.65 953.27h3.5M878.65 953.27h3.5M883.9 953.27h1.75M889.15 953.27h14M906.65 953.27h1.75M910.15 953.27h1.75M799.9 955.02h3.5M808.65 955.02h1.75M826.15 955.02h1.75M831.4 955.02h7M840.15 955.02h5.25M878.65 955.02h1.75M882.15 955.02h1.75M885.65 955.02h17.5M906.65 955.02h1.75M798.15 956.77h1.75M801.65 956.77h10.5M813.9 956.77h1.75M819.15 956.77h3.5M824.4 956.77h3.5M829.65 956.77h3.5M834.9 956.77h5.25M841.9 956.77h1.75M850.65 956.77h1.75M854.15 956.77h1.75M869.9 956.77h1.75M883.9 956.77h17.5M903.15 956.77h1.75M806.9 958.52h1.75M810.4 958.52h7M819.15 958.52h1.75M822.65 958.52h1.75M829.65 958.52h14M861.15 958.52h1.75M883.9 958.52h15.75M901.4 958.52h1.75M799.9 960.27h1.75M803.4 960.27h1.75M813.9 960.27h3.5M820.9 960.27h19.25M855.9 960.27h1.75M882.15 960.27h19.25M799.9 962.02h3.5M805.15 962.02h1.75M810.4 962.02h10.5M824.4 962.02h10.5M836.65 962.02h5.25M843.65 962.02h1.75M869.9 962.02h1.75M882.15 962.02h3.5M887.4 962.02h7M896.15 962.02h1.75M796.4 963.77h3.5M805.15 963.77h10.5M817.4 963.77h1.75M820.9 963.77h3.5M826.15 963.77h15.75M847.15 963.77h1.75M859.4 963.77h1.75M885.65 963.77h1.75M889.15 963.77h5.25M896.15 963.77h1.75M794.65 965.52h3.5M799.9 965.52h3.5M805.15 965.52h1.75M808.65 965.52h3.5M813.9 965.52h12.25M827.9 965.52h12.25M850.65 965.52h1.75M855.9 965.52h1.75M883.9 965.52h3.5M889.15 965.52h3.5M896.15 965.52h3.5M798.15 967.27h1.75M803.4 967.27h1.75M808.65 967.27h29.75M845.4 967.27h1.75M855.9 967.27h3.5M871.65 967.27h3.5M878.65 967.27h1.75M892.65 967.27h1.75M897.9 967.27h1.75M791.15 969.02h1.75M794.65 969.02h3.5M801.65 969.02h3.5M808.65 969.02h29.75M859.4 969.02h1.75M864.65 969.02h1.75M873.4 969.02h1.75M876.9 969.02h1.75M880.4 969.02h3.5M794.65 970.77h1.75M801.65 970.77h35M847.15 970.77h1.75M882.15 970.77h1.75M885.65 970.77h5.25M892.65 970.77h1.75M791.15 972.52h1.75M796.4 972.52h1.75M801.65 972.52h29.75M876.9 972.52h1.75M880.4 972.52h1.75M885.65 972.52h1.75M892.65 972.52h1.75M789.4 974.27h3.5M794.65 974.27h1.75M798.15 974.27h7M806.9 974.27h28M848.9 974.27h1.75M791.15 976.02h1.75M798.15 976.02h33.25M836.65 976.02h1.75M847.15 976.02h1.75M866.4 976.02h3.5M871.65 976.02h1.75M785.9 977.77h1.75M794.65 977.77h36.75M850.65 977.77h1.75M857.65 977.77h1.75M784.15 979.52h5.25M791.15 979.52h40.25M785.9 981.27h42M787.65 983.02h42M843.65 983.02h1.75M854.15 983.02h1.75M873.4 983.02h1.75M789.4 984.77h33.25M824.4 984.77h1.75M843.65 984.77h1.75M854.15 984.77h5.25M861.15 984.77h1.75M780.65 986.52h3.5M787.65 986.52h40.25M833.15 986.52h3.5M847.15 986.52h1.75M780.65 988.27h1.75M784.15 988.27h42M831.4 988.27h1.75M845.4 988.27h1.75M857.65 988.27h1.75M780.65 990.02h1.75M785.9 990.02h35M822.65 990.02h1.75M827.9 990.02h5.25M834.9 990.02h1.75M857.65 990.02h1.75M861.15 990.02h1.75M777.15 991.77h42M820.9 991.77h1.75M829.65 991.77h1.75M840.15 991.77h1.75M778.9 993.52h1.75M782.4 993.52h36.75M834.9 993.52h1.75M855.9 993.52h3.5M773.65 995.27h3.5M778.9 995.27h33.25M813.9 995.27h1.75M833.15 995.27h1.75M836.65 995.27h1.75M775.4 997.02h35M770.15 998.77h1.75M773.65 998.77h1.75M777.15 998.77h14M792.9 998.77h12.25M822.65 998.77h3.5M859.4 998.77h1.75M775.4 1000.52h29.75M764.9 1002.27h3.5M773.65 1002.27h28M819.15 1002.27h1.75M848.9 1002.27h1.75M771.9 1004.02h26.25M799.9 1004.02h1.75M817.4 1004.02h1.75M822.65 1004.02h1.75M834.9 1004.02h1.75M840.15 1004.02h1.75M768.4 1005.77h28M817.4 1005.77h1.75M857.65 1005.77h1.75M761.4 1007.52h1.75M766.65 1007.52h1.75M770.15 1007.52h24.5M805.15 1007.52h1.75M824.4 1007.52h1.75M831.4 1007.52h1.75M857.65 1007.52h1.75M764.9 1009.27h15.75M782.4 1009.27h8.75M792.9 1009.27h1.75M796.4 1009.27h1.75M817.4 1009.27h1.75M764.9 1011.02h1.75M768.4 1011.02h21M801.65 1011.02h1.75M764.9 1012.77h1.75M768.4 1012.77h19.25M791.15 1012.77h1.75M763.15 1014.52h3.5M768.4 1014.52h19.25M799.9 1014.52h1.75M764.9 1016.27h12.25M778.9 1016.27h1.75M785.9 1016.27h1.75M789.4 1016.27h1.75M792.9 1016.27h1.75M796.4 1016.27h1.75M764.9 1018.02h15.75M782.4 1018.02h1.75M787.65 1018.02h1.75M794.65 1018.02h3.5M764.9 1019.77h12.25M778.9 1019.77h5.25M792.9 1019.77h1.75M766.65 1021.52h7M780.65 1021.52h1.75M791.15 1021.52h1.75M796.4 1021.52h1.75M750.9 1023.27h3.5M770.15 1023.27h1.75M777.15 1023.27h1.75M745.65 1025.03h3.5M750.9 1025.03h1.75M761.4 1025.03h3.5M768.4 1025.03h1.75M749.15 1026.78h1.75M752.65 1026.78h1.75M763.15 1028.53h1.75M756.15 1030.28h5.25M764.9 1030.28h3.5M773.65 1030.28h3.5M780.65 1030.28h1.75M750.9 1032.03h1.75M759.65 1032.03h1.75M747.4 1033.78h1.75M754.4 1033.78h1.75M742.15 1037.28h1.75M752.65 1037.28h1.75M743.9 1039.03h3.5M752.65 1040.78h1.75M749.15 1042.53h1.75M733.4 1044.28h1.75M733.4 968.5h1.6M770.7 931.5h1.6M769.7 952.5h1.6M728.2 1025h1.6M978.8 828.4h1.6M982.7 852h1.6M1000.2 833h1.6" stroke="#000" stroke-width="1.75" fill="none"/>
<rect x="806.9" y="1195.1" width="269.1" height="141.6" fill="none" stroke="#222" stroke-width="1.4"/>
<rect x="820.4" y="1219.6" width="72.3" height="14.8" fill="#000"/>
<rect x="821" y="1258.8" width="71.2" height="13.9" fill="#c0c0c0" stroke="#222" stroke-width="1.2"/>
<rect x="821" y="1298.4" width="71.2" height="13.9" fill="#636363" stroke="#222" stroke-width="1.2"/>
<text x="909.11" y="1238.2" font-family='"Liberation Sans", sans-serif' font-weight="bold" font-size="31.3" textLength="62.41" lengthAdjust="spacingAndGlyphs" fill="#000">Live</text>
<text x="909.08" y="1277.1" font-family='"Liberation Sans", sans-serif' font-weight="bold" font-size="31.3" textLength="133.5" lengthAdjust="spacingAndGlyphs" fill="#000">Necrosis</text>
<text x="909.25" y="1315.6" font-family='"Liberation Sans", sans-serif' font-weight="bold" font-size="31.3" textLength="152.95" lengthAdjust="spacingAndGlyphs" fill="#000">Apoptosis</text>
<rect x="311.6" y="1773.8" width="10.4" height="3.4" fill="#000"/>
<rect x="311.6" y="1674.3" width="10.4" height="3.4" fill="#000"/>
<rect x="311.6" y="1574.8" width="10.4" height="3.4" fill="#000"/>
<rect x="311.6" y="1475.3" width="10.4" height="3.4" fill="#000"/>
<rect x="311.6" y="1375.8" width="10.4" height="3.4" fill="#000"/>
<rect x="311.6" y="1276.3" width="10.4" height="3.4" fill="#000"/>
<rect x="321.3" y="1774" width="2" height="7.5" fill="#000"/>
<rect x="439.7" y="1774" width="2" height="7.5" fill="#000"/>
<rect x="558.1" y="1774" width="2" height="7.5" fill="#000"/>
<rect x="676.5" y="1774" width="2" height="7.5" fill="#000"/>
<rect x="794.9" y="1774" width="2" height="7.5" fill="#000"/>
<rect x="913.3" y="1774" width="2" height="7.5" fill="#000"/>
<rect x="1031.7" y="1774" width="2" height="7.5" fill="#000"/>
<text x="273.35" y="1787.7" font-family='"Liberation Sans", sans-serif' font-weight="bold" font-size="34.5" fill="#000">0</text>
<text x="254.1" y="1688.2" font-family='"Liberation Sans", sans-serif' font-weight="bold" font-size="34.5" fill="#000">20</text>
<text x="254.1" y="1588.7" font-family='"Liberation Sans", sans-serif' font-weight="bold" font-size="34.5" fill="#000">40</text>
<text x="254.1" y="1489.2" font-family='"Liberation Sans", sans-serif' font-weight="bold" font-size="34.5" fill="#000">60</text>
<text x="254.1" y="1389.7" font-family='"Liberation Sans", sans-serif' font-weight="bold" font-size="34.5" fill="#000">80</text>
<text x="234.85" y="1290.2" font-family='"Liberation Sans", sans-serif' font-weight="bold" font-size="34.5" fill="#000">100</text>
<text x="429.04" y="1825.6" font-family='"Liberation Sans", sans-serif' font-weight="bold" font-size="31.5" textLength="19.04" lengthAdjust="spacingAndGlyphs" fill="#000">0</text>
<text x="549.89" y="1825.6" font-family='"Liberation Sans", sans-serif' font-weight="bold" font-size="31.5" textLength="17.58" lengthAdjust="spacingAndGlyphs" fill="#000">1</text>
<text x="669.23" y="1825.6" font-family='"Liberation Sans", sans-serif' font-weight="bold" font-size="31.5" textLength="18.08" lengthAdjust="spacingAndGlyphs" fill="#000">3</text>
<text x="786.64" y="1825.6" font-family='"Liberation Sans", sans-serif' font-weight="bold" font-size="31.5" textLength="20.45" lengthAdjust="spacingAndGlyphs" fill="#000">6</text>
<text x="905.6" y="1825.6" font-family='"Liberation Sans", sans-serif' font-weight="bold" font-size="31.5" textLength="38.41" lengthAdjust="spacingAndGlyphs" fill="#000">24</text>
<text x="1023.53" y="1825.6" font-family='"Liberation Sans", sans-serif' font-weight="bold" font-size="31.5" textLength="44.81" lengthAdjust="spacingAndGlyphs" fill="#000">(h)</text>
<g transform="translate(229,1679.4) rotate(-90)"><text x="-1.73" y="0" font-family='"Liberation Sans", sans-serif' font-weight="bold" font-size="40" textLength="309.39" lengthAdjust="spacingAndGlyphs" fill="#000">Cells (% of total)</text></g>
<rect x="399.1" y="1383.3" width="14.2" height="4" fill="#000"/><rect x="404.4" y="1383.3" width="3.6" height="17" fill="#000"/>
<rect x="433.6" y="1719.3" width="14.2" height="3.5" fill="#000"/><rect x="438.9" y="1719.3" width="3.6" height="9.8" fill="#000"/>
<rect x="468.1" y="1707.4" width="14.2" height="3.6" fill="#000"/><rect x="473.4" y="1707.4" width="3.6" height="9.9" fill="#000"/>
<rect x="388.8" y="1399.3" width="34.8" height="374.7" fill="#000"/>
<rect x="424.1" y="1728.6" width="33.2" height="45.9" fill="#c0c0c0" stroke="#1a1a1a" stroke-width="1.1"/>
<rect x="458.3" y="1716.8" width="33.8" height="57.7" fill="#626262" stroke="#1a1a1a" stroke-width="1.1"/>
<rect x="517.6" y="1394" width="14.2" height="4" fill="#000"/><rect x="522.9" y="1394" width="3.6" height="30.3" fill="#000"/>
<rect x="552.1" y="1669.5" width="14.2" height="3.4" fill="#000"/><rect x="557.4" y="1669.5" width="3.6" height="18.8" fill="#000"/>
<rect x="586.6" y="1718.7" width="14.2" height="3.5" fill="#000"/><rect x="591.9" y="1718.7" width="3.6" height="5.4" fill="#000"/>
<rect x="507.3" y="1423.3" width="34.8" height="350.7" fill="#000"/>
<rect x="542.6" y="1687.8" width="33.2" height="86.7" fill="#c0c0c0" stroke="#1a1a1a" stroke-width="1.1"/>
<rect x="576.8" y="1723.6" width="33.8" height="50.9" fill="#626262" stroke="#1a1a1a" stroke-width="1.1"/>
<rect x="636.1" y="1400" width="14.2" height="4" fill="#000"/><rect x="641.4" y="1400" width="3.6" height="33.7" fill="#000"/>
<rect x="670.6" y="1686" width="14.2" height="3.6" fill="#000"/><rect x="675.9" y="1686" width="3.6" height="10.6" fill="#000"/>
<rect x="705.1" y="1697" width="14.2" height="3.9" fill="#000"/><rect x="710.4" y="1697" width="3.6" height="9.9" fill="#000"/>
<rect x="625.8" y="1432.7" width="34.8" height="341.3" fill="#000"/>
<rect x="661.1" y="1696.1" width="33.2" height="78.4" fill="#c0c0c0" stroke="#1a1a1a" stroke-width="1.1"/>
<rect x="695.3" y="1706.4" width="33.8" height="68.1" fill="#626262" stroke="#1a1a1a" stroke-width="1.1"/>
<rect x="754.5" y="1411.3" width="14.2" height="4" fill="#000"/><rect x="759.8" y="1411.3" width="3.6" height="39" fill="#000"/>
<rect x="789" y="1650.7" width="14.2" height="4" fill="#000"/><rect x="794.3" y="1650.7" width="3.6" height="23.6" fill="#000"/>
<rect x="823.5" y="1694.7" width="14.2" height="3.5" fill="#000"/><rect x="828.8" y="1694.7" width="3.6" height="3.5" fill="#000"/>
<rect x="744.2" y="1449.3" width="34.8" height="324.7" fill="#000"/>
<rect x="779.5" y="1673.8" width="33.2" height="100.7" fill="#c0c0c0" stroke="#1a1a1a" stroke-width="1.1"/>
<rect x="813.7" y="1697.7" width="33.8" height="76.8" fill="#626262" stroke="#1a1a1a" stroke-width="1.1"/>
<rect x="872.7" y="1644.7" width="14.2" height="3.6" fill="#000"/><rect x="878" y="1644.7" width="3.6" height="11.6" fill="#000"/>
<rect x="907.2" y="1683" width="14.2" height="3.7" fill="#000"/><rect x="912.5" y="1683" width="3.6" height="10.9" fill="#000"/>
<rect x="941.7" y="1492.4" width="14.2" height="3.6" fill="#000"/><rect x="947" y="1492.4" width="3.6" height="6.5" fill="#000"/>
<rect x="862.4" y="1655.3" width="34.8" height="118.7" fill="#000"/>
<rect x="897.7" y="1693.4" width="33.2" height="81.1" fill="#c0c0c0" stroke="#1a1a1a" stroke-width="1.1"/>
<rect x="931.9" y="1498.4" width="33.8" height="276.1" fill="#626262" stroke="#1a1a1a" stroke-width="1.1"/>
<rect x="320.1" y="1276" width="4.5" height="505.5" fill="#000"/>
<rect x="311.9" y="1772" width="722.1" height="4.1" fill="#000"/>
<text x="868.95" y="1624.85" font-family='"Liberation Sans", sans-serif' font-weight="bold" font-size="52">*</text>
<text x="939.05" y="1472.05" font-family='"Liberation Sans", sans-serif' font-weight="bold" font-size="52">*</text>
</svg></body></html>
